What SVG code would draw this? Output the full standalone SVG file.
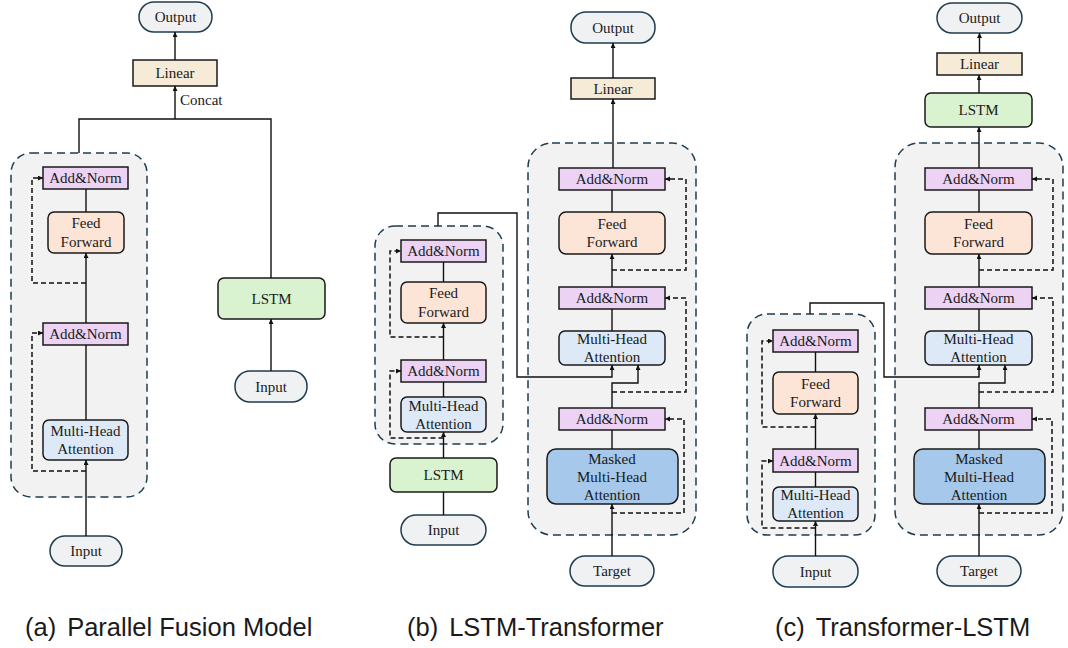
<svg xmlns="http://www.w3.org/2000/svg" width="1068" height="648" viewBox="0 0 1068 648">
  <defs>
    <marker id="arr" markerUnits="userSpaceOnUse" markerWidth="6" markerHeight="6" refX="5" refY="2.5" orient="auto">
      <path d="M0,0 L5,2.5 L0,5 z" fill="#111"/>
    </marker>
    <style>
      .t { font-family: "Liberation Serif", "Times New Roman", serif; font-size: 15px; fill: #1a1a1a; text-anchor: middle; dominant-baseline: central; }
      .cap { font-family: "Liberation Sans", Arial, sans-serif; font-size: 25.5px; fill: #1a1a1a; }
      .pill { fill: #f0f1f2; stroke: #1e3d4f; stroke-width: 1.5; }
      .lin { fill: #f6ebd6; stroke: #1a1a1a; stroke-width: 1.5; }
      .an { fill: #ecd3f4; stroke: #1a1a1a; stroke-width: 1.5; }
      .ff { fill: #fce4d6; stroke: #1a1a1a; stroke-width: 1.5; }
      .mha { fill: #dde9f6; stroke: #1a1a1a; stroke-width: 1.5; }
      .mmha { fill: #a5c8eb; stroke: #1a1a1a; stroke-width: 1.5; }
      .lstm { fill: #d9f2d0; stroke: #1a1a1a; stroke-width: 1.5; }
      .box { fill: #f2f2f2; stroke: #1e3d4f; stroke-width: 1.5; stroke-dasharray: 8 5; }
      .c { fill: none; stroke: #111; stroke-width: 1.4; }
      .d { fill: none; stroke: #111; stroke-width: 1.5; stroke-dasharray: 5 3; }
    </style>
  </defs>

  <!-- ===== (a) Parallel Fusion Model ===== -->
  <rect id="a-block" class="box" x="11" y="153" width="136" height="344" rx="20"/>
  <g id="a-output"><rect class="pill" x="139" y="2" width="73" height="30" rx="15"/><text class="t" x="175.5" y="17">Output</text></g>
  <g id="a-linear"><rect class="lin" x="133" y="60" width="84" height="26"/><text class="t" x="175" y="73">Linear</text></g>
  <g id="a-an1"><rect class="an" x="43" y="167" width="85" height="22"/><text class="t" x="85.5" y="178">Add&amp;Norm</text></g>
  <g id="a-ff"><rect class="ff" x="48" y="212" width="76" height="41" rx="6"/><text class="t" x="86" y="223">Feed</text><text class="t" x="86" y="242">Forward</text></g>
  <g id="a-an2"><rect class="an" x="43" y="323" width="85" height="22"/><text class="t" x="85.5" y="334">Add&amp;Norm</text></g>
  <g id="a-mha"><rect class="mha" x="43" y="420" width="85" height="40" rx="6"/><text class="t" x="85.5" y="431">Multi-Head</text><text class="t" x="85.5" y="449">Attention</text></g>
  <g id="a-input1"><rect class="pill" x="50" y="536" width="72" height="30" rx="15"/><text class="t" x="86" y="551">Input</text></g>
  <g id="a-lstm"><rect class="lstm" x="218" y="278" width="107" height="41" rx="6"/><text class="t" x="271.5" y="298.5">LSTM</text></g>
  <g id="a-input2"><rect class="pill" x="235" y="371" width="72" height="31" rx="15"/><text class="t" x="271" y="386.5">Input</text></g>
  <text id="a-concat" class="t" x="180" y="100" style="text-anchor:start">Concat</text>

  <!-- ===== (b) LSTM-Transformer ===== -->
  <rect id="b-enc-block" class="box" x="375" y="226" width="128" height="218" rx="20"/>
  <rect id="b-dec-block" class="box" x="528" y="143" width="168" height="392" rx="24"/>
  <g id="b-output"><rect class="pill" x="571" y="12" width="84" height="31" rx="15"/><text class="t" x="613" y="27.5">Output</text></g>
  <g id="b-linear"><rect class="lin" x="571" y="78" width="84" height="21"/><text class="t" x="613" y="88.5">Linear</text></g>
  <g id="b-dan1"><rect class="an" x="559" y="168" width="106" height="22"/><text class="t" x="612" y="179">Add&amp;Norm</text></g>
  <g id="b-dff"><rect class="ff" x="559" y="212" width="106" height="42" rx="7"/><text class="t" x="612" y="224">Feed</text><text class="t" x="612" y="242">Forward</text></g>
  <g id="b-dan2"><rect class="an" x="559" y="287" width="106" height="22"/><text class="t" x="612" y="298">Add&amp;Norm</text></g>
  <g id="b-dmha"><rect class="mha" x="559" y="331" width="106" height="34" rx="6"/><text class="t" x="612" y="339">Multi-Head</text><text class="t" x="612" y="357">Attention</text></g>
  <g id="b-dan3"><rect class="an" x="559" y="408" width="106" height="22"/><text class="t" x="612" y="419">Add&amp;Norm</text></g>
  <g id="b-mmha"><rect class="mmha" x="547" y="449" width="131" height="55" rx="9"/><text class="t" x="612" y="459">Masked</text><text class="t" x="612" y="477">Multi-Head</text><text class="t" x="612" y="495">Attention</text></g>
  <g id="b-target"><rect class="pill" x="570" y="556" width="84" height="30" rx="15"/><text class="t" x="612" y="571">Target</text></g>
  <g id="b-ean1"><rect class="an" x="401" y="240" width="85" height="22"/><text class="t" x="443.5" y="251">Add&amp;Norm</text></g>
  <g id="b-eff"><rect class="ff" x="401" y="282" width="85" height="41" rx="6"/><text class="t" x="443.5" y="293">Feed</text><text class="t" x="443.5" y="312">Forward</text></g>
  <g id="b-ean2"><rect class="an" x="401" y="360" width="85" height="22"/><text class="t" x="443.5" y="371">Add&amp;Norm</text></g>
  <g id="b-emha"><rect class="mha" x="401" y="397" width="85" height="35" rx="6"/><text class="t" x="443.5" y="406">Multi-Head</text><text class="t" x="443.5" y="424">Attention</text></g>
  <g id="b-lstm"><rect class="lstm" x="390" y="458" width="107" height="34" rx="6"/><text class="t" x="443.5" y="475">LSTM</text></g>
  <g id="b-input"><rect class="pill" x="401" y="515" width="85" height="30" rx="15"/><text class="t" x="443.5" y="530">Input</text></g>

  <!-- ===== (c) Transformer-LSTM ===== -->
  <rect id="c-enc-block" class="box" x="747" y="314" width="128" height="221" rx="20"/>
  <rect id="c-dec-block" class="box" x="895" y="143" width="168" height="392" rx="24"/>
  <g id="c-output"><rect class="pill" x="937" y="3" width="85" height="30" rx="15"/><text class="t" x="979.5" y="18">Output</text></g>
  <g id="c-linear"><rect class="lin" x="937" y="53" width="85" height="22"/><text class="t" x="979.5" y="64">Linear</text></g>
  <g id="c-lstm"><rect class="lstm" x="925" y="93" width="107" height="34" rx="6"/><text class="t" x="978.5" y="110">LSTM</text></g>
  <g id="c-dan1"><rect class="an" x="925" y="168" width="107" height="22"/><text class="t" x="978.5" y="179">Add&amp;Norm</text></g>
  <g id="c-dff"><rect class="ff" x="925" y="212" width="107" height="42" rx="7"/><text class="t" x="978.5" y="224">Feed</text><text class="t" x="978.5" y="242">Forward</text></g>
  <g id="c-dan2"><rect class="an" x="925" y="287" width="107" height="22"/><text class="t" x="978.5" y="298">Add&amp;Norm</text></g>
  <g id="c-dmha"><rect class="mha" x="925" y="331" width="107" height="34" rx="6"/><text class="t" x="978.5" y="339">Multi-Head</text><text class="t" x="978.5" y="357">Attention</text></g>
  <g id="c-dan3"><rect class="an" x="925" y="408" width="107" height="22"/><text class="t" x="978.5" y="419">Add&amp;Norm</text></g>
  <g id="c-mmha"><rect class="mmha" x="914" y="449" width="131" height="55" rx="9"/><text class="t" x="979" y="459">Masked</text><text class="t" x="979" y="477">Multi-Head</text><text class="t" x="979" y="495">Attention</text></g>
  <g id="c-target"><rect class="pill" x="937" y="556" width="84" height="30" rx="15"/><text class="t" x="979" y="571">Target</text></g>
  <g id="c-ean1"><rect class="an" x="773" y="330" width="85" height="22"/><text class="t" x="815.5" y="341">Add&amp;Norm</text></g>
  <g id="c-eff"><rect class="ff" x="773" y="372" width="85" height="42" rx="6"/><text class="t" x="815.5" y="384">Feed</text><text class="t" x="815.5" y="402">Forward</text></g>
  <g id="c-ean2"><rect class="an" x="773" y="449" width="85" height="23"/><text class="t" x="815.5" y="460.5">Add&amp;Norm</text></g>
  <g id="c-emha"><rect class="mha" x="773" y="487" width="85" height="34" rx="6"/><text class="t" x="815.5" y="495">Multi-Head</text><text class="t" x="815.5" y="513">Attention</text></g>
  <g id="c-input"><rect class="pill" x="773" y="556" width="85" height="31" rx="15"/><text class="t" x="815.5" y="571.5">Input</text></g>

  <!-- ===== connectors ===== -->
  <g id="connectors">
    <!-- (a) -->
    <path class="c" d="M175,60 V32" marker-end="url(#arr)"/>
    <path class="c" d="M79,153 V119 H271 V278"/>
    <path class="c" d="M175,119 V86" marker-end="url(#arr)"/>
    <path class="c" d="M86,536 V460" marker-end="url(#arr)"/>
    <path class="c" d="M86,420 V345"/>
    <path class="c" d="M86,323 V253" marker-end="url(#arr)"/>
    <path class="c" d="M86,212 V189"/>
    <path class="c" d="M271,371 V319" marker-end="url(#arr)"/>
    <path class="d" d="M86,283 H32 V178 H43" marker-end="url(#arr)"/>
    <path class="d" d="M86,471 H32 V333 H43" marker-end="url(#arr)"/>

    <!-- (b) encoder -->
    <path class="c" d="M443.5,515 V492"/>
    <path class="c" d="M443.5,458 V432" marker-end="url(#arr)"/>
    <path class="c" d="M443.5,397 V382"/>
    <path class="c" d="M443.5,360 V323" marker-end="url(#arr)"/>
    <path class="c" d="M443.5,282 V262"/>
    <path class="d" d="M443.5,337 H390 V251 H401" marker-end="url(#arr)"/>
    <path class="d" d="M443.5,438 H390 V371 H401" marker-end="url(#arr)"/>
    <path class="c" d="M438,226 V213 H517 V377 H612 V365" marker-end="url(#arr)"/>
    <!-- (b) decoder -->
    <path class="c" d="M612,556 V504" marker-end="url(#arr)"/>
    <path class="c" d="M612,449 V430"/>
    <path class="c" d="M612,408 V383 H638 V365" marker-end="url(#arr)"/>
    <path class="c" d="M612,331 V309"/>
    <path class="c" d="M612,287 V254" marker-end="url(#arr)"/>
    <path class="c" d="M612,212 V190"/>
    <path class="c" d="M613,168 V99" marker-end="url(#arr)"/>
    <path class="c" d="M613,78 V43" marker-end="url(#arr)"/>
    <path class="d" d="M612,513 H684 V419 H665" marker-end="url(#arr)"/>
    <path class="d" d="M612,392 H686 V298 H665" marker-end="url(#arr)"/>
    <path class="d" d="M612,270 H686 V179 H665" marker-end="url(#arr)"/>

    <!-- (c) encoder -->
    <path class="c" d="M815.5,556 V521" marker-end="url(#arr)"/>
    <path class="c" d="M815.5,487 V472"/>
    <path class="c" d="M815.5,449 V414" marker-end="url(#arr)"/>
    <path class="c" d="M815.5,372 V352"/>
    <path class="d" d="M815.5,427 H762 V341 H773" marker-end="url(#arr)"/>
    <path class="d" d="M815.5,528 H762 V461 H773" marker-end="url(#arr)"/>
    <path class="c" d="M810,314 V303 H884 V377 H979 V365" marker-end="url(#arr)"/>
    <!-- (c) decoder -->
    <path class="c" d="M979,556 V504" marker-end="url(#arr)"/>
    <path class="c" d="M979,449 V430"/>
    <path class="c" d="M979,408 V383 H1005 V365" marker-end="url(#arr)"/>
    <path class="c" d="M979,331 V309"/>
    <path class="c" d="M979,287 V254" marker-end="url(#arr)"/>
    <path class="c" d="M979,212 V190"/>
    <path class="c" d="M979,168 V127" marker-end="url(#arr)"/>
    <path class="c" d="M979,93 V75" marker-end="url(#arr)"/>
    <path class="c" d="M979.5,53 V33" marker-end="url(#arr)"/>
    <path class="d" d="M979,513 H1052 V419 H1032" marker-end="url(#arr)"/>
    <path class="d" d="M979,392 H1053 V298 H1032" marker-end="url(#arr)"/>
    <path class="d" d="M979,270 H1053 V179 H1032" marker-end="url(#arr)"/>
  </g>

  <!-- captions -->
  <text id="cap-a" class="cap" x="25" y="636">(a)<tspan dx="11">Parallel Fusion Model</tspan></text>
  <text id="cap-b" class="cap" x="407" y="636">(b)<tspan dx="11">LSTM-Transformer</tspan></text>
  <text id="cap-c" class="cap" x="775" y="636">(c)<tspan dx="11">Transformer-LSTM</tspan></text>
</svg>
